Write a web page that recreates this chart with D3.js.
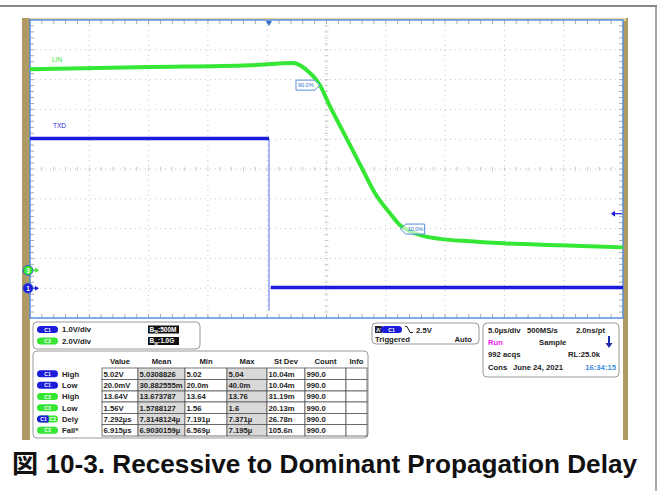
<!DOCTYPE html>
<html>
<head>
<meta charset="utf-8">
<script src="https://cdn.jsdelivr.net/npm/d3@7/dist/d3.min.js"></script>
<style>
  body { margin: 0; background: #fff; }
  svg text { font-family: "Liberation Sans", Arial, "Noto Sans CJK JP", sans-serif; }
</style>
</head>
<body>
<svg id="scope" width="661" height="491"></svg>
<script>
// LIN (channel 3) trace, time in µs, volts
const linTime = [-20, -9.9, -1.45, 2.18, 2.77, 3.44, 4.03, 4.45, 5.21, 6.56, 8.08, 9.09, 10.35, 11.2, 12.04, 13.3, 14.57, 17.1, 19.9, 24.7, 30];
const linVolt = [13.49, 13.64, 13.76, 13.91, 13.76, 13.36, 12.89, 12.42, 11.14, 9.06, 6.71, 5.17, 3.83, 3.02, 2.62, 2.28, 2.11, 1.95, 1.81, 1.68, 1.54];
// TXD (channel 1) trace
const txdTime = [-20, 0.15, 0.15, 0.3, 30];
const txdVolt = [5.02, 5.02, -0.75, 0.02, 0.02];

// measurement cursors on LIN
const fallMarks = [{ label: "90.0%", t: 4.45, v: 12.43, side: "left" }, { label: "10.0%", t: 11.25, v: 2.77, side: "right" }];

const trigLevel = 2.5;

// measurement table
const tableCols = ["Value", "Mean", "Min", "Max", "St Dev", "Count", "Info"];
const tableRows = [
  { ch: "C1", name: "High", cells: ["5.02V", "5.0308826", "5.02", "5.04", "10.04m", "990.0", ""] },
  { ch: "C1", name: "Low", cells: ["20.0mV", "30.882555m", "20.0m", "40.0m", "10.04m", "990.0", ""] },
  { ch: "C3", name: "High", cells: ["13.64V", "13.673787", "13.64", "13.76", "31.19m", "990.0", ""] },
  { ch: "C3", name: "Low", cells: ["1.56V", "1.5788127", "1.56", "1.6", "20.13m", "990.0", ""] },
  { ch: "C1-C3", name: "Dely", cells: ["7.292\u00b5s", "7.3148124\u00b5", "7.191\u00b5", "7.371\u00b5", "26.78n", "990.0", ""] },
  { ch: "C3", name: "Fall*", cells: ["6.915\u00b5s", "6.9030159\u00b5", "6.569\u00b5", "7.195\u00b5", "105.6n", "990.0", ""] }
];
const chanScale = [{ ch: "C1", text: "1.0V/div", bw: "500M" }, { ch: "C3", text: "2.0V/div", bw: "1.0G" }];

const blue = "#1c1cdc", green = "#35e635", tan = "#ae9a62", frameBlue = "#5a8ee0";

let svg = d3.select("#scope");

// outer frame
svg.append("line").attr("x1", 0).attr("x2", 657).attr("y1", 6).attr("y2", 6).attr("stroke", "#888").attr("stroke-width", 2);
svg.append("line").attr("x1", 656).attr("x2", 656).attr("y1", 6).attr("y2", 491).attr("stroke", "#888").attr("stroke-width", 1.5);

// tan scope bezel
svg.append("rect").attr("x", 22).attr("y", 18).attr("width", 606).attr("height", 422).attr("fill", tan);
svg.append("rect").attr("x", 30).attr("y", 18).attr("width", 596).attr("height", 3).attr("fill", "#e8d59a");
svg.append("rect").attr("x", 30).attr("y", 20).attr("width", 593).attr("height", 420).attr("fill", "#fff");

// graticule
let gx = d3.scaleLinear().domain([0, 10]).range([30, 623]);
let gy = d3.scaleLinear().domain([0, 10]).range([20, 318]);
let x = d3.scaleLinear().domain([-20, 30]).range([30, 623]);
let yLin = d3.scaleLinear().domain([-3.2, 16.8]).range([318, 20]);
let yTxd = d3.scaleLinear().domain([-1, 9]).range([318, 20]);

let grid = svg.append("g");
grid.selectAll(".vg").data(d3.range(1, 10)).enter().append("line")
  .attr("x1", d => gx(d)).attr("x2", d => gx(d)).attr("y1", 20).attr("y2", 318)
  .attr("stroke", "#c4c4c4").attr("stroke-dasharray", "1,4");
grid.selectAll(".hg").data(d3.range(1, 10)).enter().append("line")
  .attr("y1", d => gy(d)).attr("y2", d => gy(d)).attr("x1", 30).attr("x2", 623)
  .attr("stroke", "#c4c4c4").attr("stroke-dasharray", "1,4");

let minor = d3.range(0.2, 10, 0.2);
// edge ticks
grid.selectAll(".tt").data(minor).enter().append("line")
  .attr("x1", d => gx(d)).attr("x2", d => gx(d)).attr("y1", 20).attr("y2", 24).attr("stroke", "#aaa");
grid.selectAll(".bt").data(minor).enter().append("line")
  .attr("x1", d => gx(d)).attr("x2", d => gx(d)).attr("y1", 314).attr("y2", 318).attr("stroke", "#aaa");
grid.selectAll(".lt").data(minor).enter().append("line")
  .attr("y1", d => gy(d)).attr("y2", d => gy(d)).attr("x1", 30).attr("x2", 34).attr("stroke", "#aaa");
grid.selectAll(".rt").data(minor).enter().append("line")
  .attr("y1", d => gy(d)).attr("y2", d => gy(d)).attr("x1", 619).attr("x2", 623).attr("stroke", "#aaa");
// center ticks
grid.selectAll(".ch").data(minor).enter().append("line")
  .attr("x1", d => gx(d)).attr("x2", d => gx(d)).attr("y1", gy(5) - 2).attr("y2", gy(5) + 2).attr("stroke", "#ccc");
grid.selectAll(".cv").data(minor).enter().append("line")
  .attr("y1", d => gy(d)).attr("y2", d => gy(d)).attr("x1", gx(5) - 2).attr("x2", gx(5) + 2).attr("stroke", "#ccc");

svg.append("rect").attr("x", 30).attr("y", 20).attr("width", 593).attr("height", 298)
  .attr("fill", "none").attr("stroke", frameBlue).attr("stroke-width", 1.5);

// traces
let linData = linTime.map((t, i) => [t, linVolt[i]]);
let linLine = d3.line().x(d => x(d[0])).y(d => yLin(d[1])).curve(d3.curveMonotoneX);
svg.append("path").attr("d", linLine(linData))
  .attr("fill", "none").attr("stroke", green).attr("stroke-width", 4).attr("stroke-linejoin", "round");

let txdData = txdTime.map((t, i) => [t, txdVolt[i]]);
let txdLine = d3.line().x(d => x(d[0])).y(d => yTxd(d[1]));
svg.append("path").attr("d", txdLine(txdData.slice(1, 3)))
  .attr("fill", "none").attr("stroke", "#7d8ff0").attr("stroke-width", 1.3);
svg.append("path").attr("d", txdLine(txdData.slice(0, 2)))
  .attr("fill", "none").attr("stroke", blue).attr("stroke-width", 3.5);
svg.append("path").attr("d", txdLine(txdData.slice(3)))
  .attr("fill", "none").attr("stroke", blue).attr("stroke-width", 3.5);

svg.append("text").attr("x", 52).attr("y", 62).attr("font-size", 6.5).attr("fill", green).text("LIN");
svg.append("text").attr("x", 53).attr("y", 128).attr("font-size", 6.5).attr("fill", blue).text("TXD");

// 90% / 10% tags
fallMarks.forEach(function (m) {
  let px = x(m.t), py = yLin(m.v);
  let w = 24, h = 10, tip = 5;
  let pts = m.side == "left"
    ? [[px, py], [px - tip, py - h / 2], [px - w, py - h / 2], [px - w, py + h / 2], [px - tip, py + h / 2]]
    : [[px, py], [px + tip, py - h / 2], [px + w, py - h / 2], [px + w, py + h / 2], [px + tip, py + h / 2]];
  svg.append("polygon").attr("points", pts.map(p => p.join(",")).join(" "))
    .attr("fill", "#fff").attr("fill-opacity", 0.6).attr("stroke", frameBlue).attr("stroke-width", 1);
  svg.append("text").attr("x", m.side == "left" ? px - w + 2 : px + 7).attr("y", py + 2)
    .attr("font-size", 5.5).attr("fill", "#2d6fd0").text(m.label);
});

// trigger position marker and level marker
let tx = x(0.15);
svg.append("path").attr("d", `M${tx - 3},21 L${tx + 3},21 L${tx},26 Z`).attr("fill", "#2d6fd0");
let ty = yTxd(trigLevel);
svg.append("line").attr("x1", 613).attr("x2", 622).attr("y1", ty).attr("y2", ty).attr("stroke", blue).attr("stroke-width", 1.2);
svg.append("path").attr("d", `M611,${ty} L615,${ty - 3} L615,${ty + 3} Z`).attr("fill", blue);

// ground markers
[{ n: "3", c: green, y: yLin(0) }, { n: "1", c: blue, y: yTxd(0) }].forEach(function (g) {
  svg.append("path").attr("d", `M30,${g.y} L37,${g.y}`).attr("stroke", g.c).attr("stroke-width", 1.2);
  svg.append("path").attr("d", `M39,${g.y} L35,${g.y - 2.5} L35,${g.y + 2.5} Z`).attr("fill", g.c);
  svg.append("circle").attr("cx", 28).attr("cy", g.y).attr("r", 5).attr("fill", g.c).attr("stroke", "#3a5fc8").attr("stroke-width", 1);
  svg.append("text").attr("x", 28).attr("y", g.y + 2.3).attr("text-anchor", "middle")
    .attr("font-size", 6.5).attr("font-weight", "bold").attr("fill", "#fff").text(g.n);
});

// ---- info panel
function pill(g, cx, cy, ch) {
  let w = 21, h = 7;
  if (ch == "C1-C3") {
    g.append("rect").attr("x", cx - w / 2).attr("y", cy - h / 2).attr("width", w).attr("height", h).attr("rx", 3.5).attr("fill", green);
    g.append("rect").attr("x", cx - w / 2).attr("y", cy - h / 2).attr("width", w / 2 + 1).attr("height", h).attr("rx", 3.5).attr("fill", blue);
    g.append("rect").attr("x", cx - 2).attr("y", cy - h / 2).attr("width", 3).attr("height", h).attr("fill", blue);
    g.append("text").attr("x", cx - 4).attr("y", cy + 2).attr("text-anchor", "middle").attr("font-size", 5).attr("fill", "#fff").text("C1");
    g.append("text").attr("x", cx + 5).attr("y", cy + 2).attr("text-anchor", "middle").attr("font-size", 5).attr("fill", "#fff").text("C3");
    return;
  }
  g.append("rect").attr("x", cx - w / 2).attr("y", cy - h / 2).attr("width", w).attr("height", h).attr("rx", 3.5)
    .attr("fill", ch == "C1" ? blue : green);
  g.append("text").attr("x", cx).attr("y", cy + 2).attr("text-anchor", "middle").attr("font-size", 5).attr("fill", "#fff").text(ch);
}

let panel = svg.append("g").attr("font-size", 7.7).attr("font-weight", "bold").attr("fill", "#222");

// channel scale box
panel.append("rect").attr("x", 33).attr("y", 322).attr("width", 167).attr("height", 27).attr("rx", 4)
  .attr("fill", "#fff").attr("stroke", "#999");
chanScale.forEach(function (c, i) {
  let cy = 329.5 + i * 11.5;
  pill(panel, 47.5, cy, c.ch);
  panel.append("text").attr("x", 62).attr("y", cy + 2.8).text(c.text);
  panel.append("rect").attr("x", 148).attr("y", cy - 4).attr("width", 31).attr("height", 8).attr("fill", "#111");
  let t = panel.append("text").attr("x", 149.5).attr("y", cy + 2.4).attr("fill", "#fff").attr("font-size", 6.5);
  t.append("tspan").text("B");
  t.append("tspan").attr("font-size", 4).attr("dy", 1.2).text("W");
  t.append("tspan").attr("dy", -1.2).text(":" + c.bw);
});

// measurement table
let colX = [102, 138, 185, 227, 267, 305, 346, 367];
let rowY = [368, 379.5, 391, 402, 413.5, 424.5, 436];
let shaded = [false, true, false, true, false, false, false];

panel.append("rect").attr("x", 33).attr("y", 351).attr("width", 335).attr("height", 87).attr("rx", 4)
  .attr("fill", "#fff").attr("stroke", "#999");

tableCols.forEach(function (c, i) {
  panel.append("text").attr("x", (colX[i] + colX[i + 1]) / 2).attr("y", 363.5)
    .attr("text-anchor", "middle").text(c);
});

tableRows.forEach(function (r, j) {
  let y0 = rowY[j], y1 = rowY[j + 1], cy = (y0 + y1) / 2;
  pill(panel, 47.5, cy, r.ch);
  panel.append("text").attr("x", 62).attr("y", cy + 2.8).text(r.name);
  r.cells.forEach(function (v, i) {
    panel.append("rect").attr("x", colX[i]).attr("y", y0).attr("width", colX[i + 1] - colX[i]).attr("height", y1 - y0)
      .attr("fill", shaded[i] ? "#d9d9d9" : "#fff").attr("stroke", "#555").attr("stroke-width", 0.8);
    panel.append("text").attr("x", colX[i] + 1.5).attr("y", cy + 2.8).text(v);
  });
});

// trigger box
panel.append("rect").attr("x", 372).attr("y", 323).attr("width", 107).attr("height", 21).attr("rx", 4)
  .attr("fill", "#fff").attr("stroke", "#999");
panel.append("rect").attr("x", 375).attr("y", 326).attr("width", 7).attr("height", 7).attr("fill", "#223");
panel.append("text").attr("x", 376).attr("y", 332).attr("font-size", 6).attr("fill", "#fff").text("A'");
pill(panel, 391.5, 329.5, "C1");
panel.append("path").attr("d", "M405,326.5 L407,326.5 L410,332.5 L413,332.5").attr("fill", "none").attr("stroke", "#222").attr("stroke-width", 1);
panel.append("text").attr("x", 416).attr("y", 332.5).text(trigLevel.toFixed(1) + "V");
panel.append("text").attr("x", 375).attr("y", 341.5).text("Triggered");
panel.append("text").attr("x", 472).attr("y", 341.5).attr("text-anchor", "end").text("Auto");

// horizontal / acquisition box
panel.append("rect").attr("x", 483).attr("y", 323).attr("width", 136).attr("height", 54).attr("rx", 4)
  .attr("fill", "#fff").attr("stroke", "#999");
panel.append("text").attr("x", 488).attr("y", 332.5).text("5.0\u00b5s/div");
panel.append("text").attr("x", 527).attr("y", 332.5).text("500MS/s");
panel.append("text").attr("x", 605).attr("y", 332.5).attr("text-anchor", "end").text("2.0ns/pt");
panel.append("text").attr("x", 488).attr("y", 344.5).attr("fill", "#ee22ee").text("Run");
panel.append("text").attr("x", 539).attr("y", 344.5).text("Sample");
panel.append("line").attr("x1", 609).attr("x2", 609).attr("y1", 336).attr("y2", 344).attr("stroke", "#1a2fb0").attr("stroke-width", 2);
panel.append("path").attr("d", "M605.5,343 L612.5,343 L609,348 Z").attr("fill", "#1a2fb0");
panel.append("text").attr("x", 488).attr("y", 356.5).text("992 acqs");
panel.append("text").attr("x", 600).attr("y", 356.5).attr("text-anchor", "end").text("RL:25.0k");
panel.append("text").attr("x", 488).attr("y", 369.5).text("Cons");
panel.append("text").attr("x", 513).attr("y", 369.5).text("June 24, 2021");
panel.append("text").attr("x", 616).attr("y", 369.5).attr("text-anchor", "end").attr("fill", "#3b8de0").text("16:34:15");

// caption
svg.append("text").attr("x", 12).attr("y", 473).attr("font-size", 26).attr("font-weight", "bold").attr("fill", "#111")
  .attr("textLength", 625).attr("lengthAdjust", "spacingAndGlyphs")
  .text("\u56f3 10-3. Recessive to Dominant Propagation Delay");
</script>
</body>
</html>
